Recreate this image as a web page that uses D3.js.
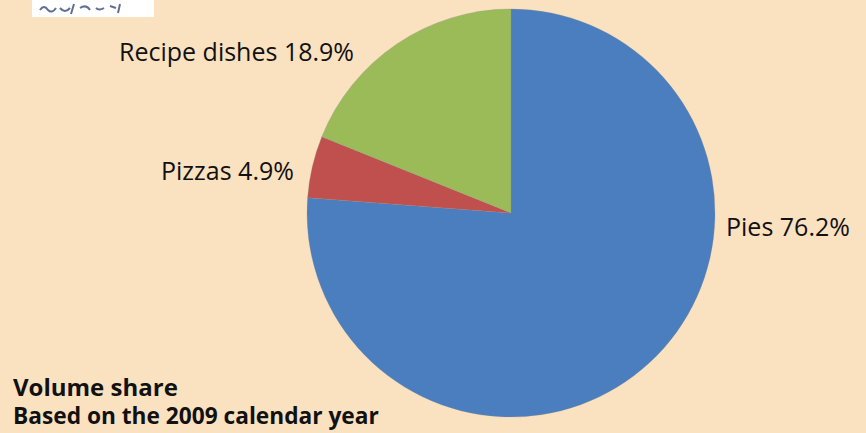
<!DOCTYPE html>
<html>
<head>
<meta charset="utf-8">
<script src="https://cdn.jsdelivr.net/npm/d3@7"></script>
<style>
  html, body { margin: 0; padding: 0; background: #fae1c0; }
  svg { display: block; }
</style>
</head>
<body>
<svg id="chart"></svg>
<script>
// Data
const categories = ["Pies", "Pizzas", "Recipe dishes"];
const shares     = [76.2, 4.9, 18.9];
const colors     = ["#4a7ebf", "#c0504d", "#9bbb59"];

// Configuration
const W = 866, H = 433;
const cx = 511, cy = 213, radius = 204;

// label anchor spots (left x, baseline y)
const labelPos = [
    { x: 726, y: 236 },
    { x: 161, y: 180 },
    { x: 119, y: 61 }
];

const svg = d3.select("#chart")
    .attr("width", W)
    .attr("height", H);

svg.append("rect")
    .attr("width", W)
    .attr("height", H)
    .attr("fill", "#fae1c0");

// cropped logo box top left
svg.append("rect")
    .attr("x", 32).attr("y", 0)
    .attr("width", 122).attr("height", 17)
    .attr("fill", "#ffffff");

svg.append("path")
    .attr("d", "M40,10 q4,-6 8,0 q4,4 8,-2 M60,8 q5,6 10,0 M74,4 l-3,10 M80,8 q6,-4 10,2 M96,8 q3,3 8,0 M110,6 l6,2 M120,4 l-2,9")
    .attr("fill", "none")
    .attr("stroke", "#3a4a7a")
    .attr("stroke-width", 2)
    .attr("opacity", 0.8);

// Pie
const pie = d3.pie().sort(null).value(d => d);
const arc = d3.arc().innerRadius(0).outerRadius(radius);

const g = svg.append("g")
    .attr("transform", `translate(${cx},${cy})`);

g.selectAll("path.slice")
    .data(pie(shares))
    .join("path")
    .attr("class", "slice")
    .attr("d", arc)
    .attr("fill", (d, i) => colors[i])
    .attr("stroke", "#8c8c8c")
    .attr("stroke-opacity", 0.35)
    .attr("stroke-width", 0.8);

// Labels
svg.selectAll("text.lbl")
    .data(categories)
    .join("text")
    .attr("class", "lbl")
    .attr("x", (d, i) => labelPos[i].x)
    .attr("y", (d, i) => labelPos[i].y)
    .attr("font-family", "'Open Sans', sans-serif")
    .attr("font-size", "25px")
    .attr("fill", "#111")
    .text((d, i) => `${d} ${shares[i].toFixed(1)}%`);

// Title
svg.append("text")
    .attr("x", 13).attr("y", 396)
    .attr("font-family", "'Open Sans', sans-serif")
    .attr("font-weight", "bold")
    .attr("font-size", "24px")
    .attr("fill", "#111")
    .text("Volume share");

svg.append("text")
    .attr("x", 13).attr("y", 424)
    .attr("font-family", "'Open Sans', sans-serif")
    .attr("font-weight", "bold")
    .attr("font-size", "22.7px")
    .attr("fill", "#111")
    .text("Based on the 2009 calendar year");
</script>
</body>
</html>
